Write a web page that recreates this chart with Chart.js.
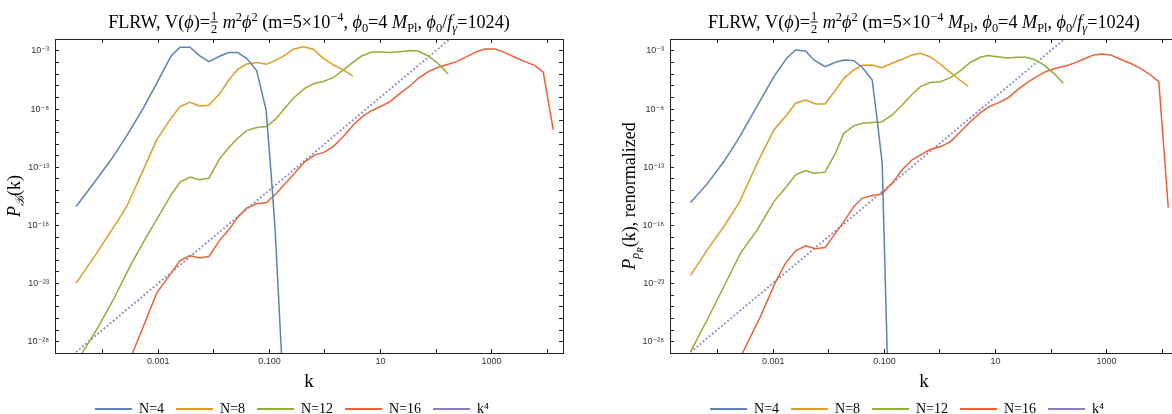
<!DOCTYPE html>
<html>
<head>
<meta charset="utf-8">
<script src="https://cdn.jsdelivr.net/npm/chart.js@4.4.0/dist/chart.umd.min.js"></script>
<style>
  html, body { margin:0; padding:0; background:#fff; overflow:hidden; width:1172px; height:414px; }
  .panel { position:absolute; top:0; width:584px; height:426px; }
  #left { left:0; }
  #right { left:615px; }
</style>
</head>
<body>
<div class="panel" id="left"><canvas id="cL" width="584" height="426"></canvas></div>
<div class="panel" id="right"><canvas id="cR" width="584" height="426"></canvas></div>
<script>
// Werte als log10 abgelesen (k und P(k))
// linkes Panel: P_B(k)
var kL_N4  = [-4.48,-4.14,-3.81,-3.54,-3.27,-3.03,-2.77,-2.61,-2.43,-2.26,-2.09,-1.89,-1.73,-1.57,-1.41,-1.23,-1.06,-0.975,-0.90,-0.78];
var pL_N4  = [-16.37,-14.23,-12.08,-10.07,-7.92,-5.78,-3.43,-2.68,-2.68,-3.40,-3.92,-3.43,-3.14,-3.14,-3.63,-4.69,-8.07,-13.22,-18.1,-29.3];
var kL_N8  = [-4.48,-4.11,-3.72,-3.57,-3.27,-3.03,-2.77,-2.61,-2.43,-2.26,-2.09,-1.89,-1.73,-1.57,-1.41,-1.23,-1.05,-0.87,-0.72,-0.57,-0.39,-0.21,-0.03,0.15,0.33,0.50];
var pL_N8  = [-22.96,-20.38,-17.52,-16.37,-13.22,-10.65,-8.78,-7.78,-7.41,-7.73,-7.67,-6.64,-5.49,-4.57,-4.12,-4.00,-4.14,-3.77,-3.35,-2.85,-2.63,-2.85,-3.63,-4.20,-4.63,-5.15];
var kL_N12 = [-4.48,-4.11,-3.81,-3.51,-3.21,-3.03,-2.77,-2.61,-2.43,-2.26,-2.09,-1.89,-1.73,-1.57,-1.41,-1.23,-1.05,-0.87,-0.72,-0.57,-0.36,-0.18,-0.03,0.15,0.33,0.48,0.66,0.84,0.99,1.17,1.35,1.53,1.68,1.86,2.02,2.22];
var pL_N12 = [-29.8,-26.97,-24.39,-21.53,-18.95,-17.5,-15.37,-14.28,-13.85,-14.08,-13.94,-12.22,-11.3,-10.5,-9.85,-9.59,-9.50,-8.78,-7.9,-7.07,-6.20,-5.78,-5.63,-5.29,-4.63,-4.06,-3.43,-3.09,-3.09,-3.14,-3.06,-2.97,-3.0,-3.43,-4.0,-4.98];
var kL_N16 = [-3.57,-3.27,-3.03,-2.77,-2.61,-2.43,-2.26,-2.09,-1.89,-1.73,-1.57,-1.41,-1.23,-1.05,-0.87,-0.6,-0.36,-0.18,-0.03,0.15,0.33,0.51,0.69,0.84,1.02,1.17,1.35,1.53,1.68,1.86,2.04,2.22,2.37,2.55,2.73,2.88,3.06,3.24,3.42,3.60,3.78,3.93,4.11];
var pL_N16 = [-30.2,-26.69,-23.82,-22.10,-21.02,-20.59,-20.81,-20.67,-19.24,-18.38,-17.3,-16.51,-16.14,-16.03,-15.22,-13.8,-12.51,-11.93,-11.74,-11.22,-10.36,-9.36,-8.58,-8.13,-7.73,-7.36,-6.64,-6.01,-5.35,-4.78,-4.40,-4.14,-3.92,-3.49,-3.06,-2.83,-2.83,-3.14,-3.54,-3.92,-4.26,-4.83,-9.79];
var kL_K4  = [-4.48, 2.30];
var pL_K4  = [-28.89, -1.77];

// rechtes Panel: P_rhoR(k), renormalized
var kR_N4  = [-4.49,-4.19,-3.89,-3.62,-3.29,-2.99,-2.76,-2.60,-2.42,-2.27,-2.07,-1.88,-1.73,-1.55,-1.40,-1.22,-1.13,-1.04,-1.01,-0.95,-0.90];
var pR_N4  = [-16.03,-14.43,-12.51,-10.5,-7.73,-5.21,-3.63,-2.91,-3.0,-3.77,-4.35,-3.97,-3.77,-3.83,-4.40,-5.49,-8.93,-12.65,-18.09,-28.85,-31.0];
var kR_N8  = [-4.49,-4.19,-3.89,-3.62,-3.29,-2.99,-2.76,-2.60,-2.42,-2.24,-2.07,-1.88,-1.73,-1.55,-1.40,-1.22,-1.05,-0.86,-0.68,-0.50,-0.35,-0.18,0.01,0.19,0.34,0.50];
var pR_N8  = [-22.30,-20.10,-18.09,-16.09,-12.65,-9.79,-8.50,-7.49,-7.21,-7.55,-7.55,-6.35,-5.35,-4.63,-4.23,-4.20,-4.43,-4.06,-3.71,-3.34,-3.20,-3.49,-4.14,-4.86,-5.43,-6.01];
var kR_N12 = [-4.49,-4.19,-3.89,-3.59,-3.29,-2.99,-2.76,-2.60,-2.42,-2.27,-2.07,-1.88,-1.73,-1.55,-1.40,-1.22,-1.05,-0.86,-0.68,-0.50,-0.35,-0.18,0.01,0.19,0.37,0.55,0.73,0.86,1.03,1.21,1.39,1.54,1.69,1.87,2.05,2.22];
var pR_N12 = [-28.85,-26.11,-23.25,-20.38,-18.38,-15.95,-14.66,-13.65,-13.28,-13.51,-13.42,-11.79,-10.07,-9.44,-9.21,-9.16,-9.1,-8.50,-7.64,-6.72,-6.07,-5.72,-5.64,-5.29,-4.69,-3.97,-3.54,-3.40,-3.49,-3.60,-3.54,-3.54,-3.71,-4.20,-4.92,-5.78];
var kR_N16 = [-3.62,-3.23,-2.97,-2.78,-2.60,-2.42,-2.24,-2.07,-1.88,-1.73,-1.55,-1.40,-1.22,-1.05,-0.86,-0.68,-0.50,-0.35,-0.17,0.01,0.19,0.37,0.55,0.73,0.91,1.06,1.24,1.39,1.57,1.74,1.90,2.08,2.26,2.44,2.62,2.77,2.92,3.07,3.25,3.43,3.61,3.77,3.94,4.11];
var pR_N16 = [-29.6,-25.82,-22.96,-21.24,-20.18,-19.75,-20.01,-19.90,-18.66,-17.67,-16.37,-15.65,-15.43,-15.3,-14.37,-13.22,-12.36,-11.93,-11.45,-11.22,-10.79,-9.93,-9.07,-8.30,-7.73,-7.44,-6.98,-6.35,-5.72,-5.21,-4.78,-4.49,-4.29,-4.0,-3.63,-3.34,-3.26,-3.34,-3.71,-4.06,-4.49,-4.98,-5.64,-16.46];
var kR_K4  = [-4.49, 2.30];
var pR_K4  = [-28.9, -1.74];

var SERIES_NAMES = ["N=4", "N=8", "N=12", "N=16", "k\u2074"];
var COLORS = ["#5E81B5", "#E19C24", "#8FB032", "#EB6235", "#8a7fc6"];

// Achsen
var X_MIN = 1.38e-5, X_MAX = 1.93e4;
var Y_MIN = 1.07e-29, Y_MAX = 1.07e-2;
var X_TICK_VALS = [1e-3, 0.1, 10, 1000];
var X_TICK_TEXT = ["0.001", "0.100", "10", "1000"];
var Y_TICK_VALS = [1e-3, 1e-8, 1e-13, 1e-18, 1e-23, 1e-28];
var Y_TICK_TEXT = ["10\u207B\u00B3", "10\u207B\u2078", "10\u207B\u00B9\u00B3", "10\u207B\u00B9\u2078", "10\u207B\u00B2\u00B3", "10\u207B\u00B2\u2078"];

var FRAME = "#222";
var SERIF = '"Liberation Serif","DejaVu Serif",serif';
var SANS = '"Liberation Sans","DejaVu Sans",sans-serif';

// Titel-Segmente: [text, stil] ; frac: [zaehler, 'frac', nenner]
var TITLE_L = [["FLRW, V(","n"],["\u03D5","i"],[")=","n"],["1","frac","2"],[" ","n"],["m","i"],["2","sup"],["\u03D5","i"],["2","sup"],
  [" (m=5\u00D710","n"],["\u22124","sup"],[", ","n"],["\u03D5","i"],["0","sub"],["=4 ","n"],["M","i"],["Pl","sub"],[", ","n"],
  ["\u03D5","i"],["0","sub"],["/","n"],["f","i"],["\u03B3","isub"],["=1024)","n"]];
var TITLE_R = [["FLRW, V(","n"],["\u03D5","i"],[")=","n"],["1","frac","2"],[" ","n"],["m","i"],["2","sup"],["\u03D5","i"],["2","sup"],
  [" (m=5\u00D710","n"],["\u22124","sup"],[" ","n"],["M","i"],["Pl","sub"],[", ","n"],["\u03D5","i"],["0","sub"],["=4 ","n"],["M","i"],["Pl","sub"],[", ","n"],
  ["\u03D5","i"],["0","sub"],["/","n"],["f","i"],["\u03B3","isub"],["=1024)","n"]];
var YTITLE_L = [["P","i"],["\u212C","isub"],["(k)","n"]];
var YTITLE_R = [["P","i"],["\u03C1","isub"],["R","ssub"],["(k), renormalized","n"]];
var XTITLE = [["k","n"]];

var STY = {
  n:    {it:false, s:1,    dy:0},
  i:    {it:true,  s:1,    dy:0},
  sup:  {it:false, s:0.68, dy:-0.4},
  sub:  {it:false, s:0.68, dy:0.22},
  isub: {it:true,  s:0.68, dy:0.22},
  ssub: {it:true,  s:0.5,  dy:0.42}
};
function fontOf(st, size){ return (st.it ? "italic " : "") + (size*st.s).toFixed(1) + "px " + SERIF; }

function drawRich(ctx, segs, size, cx, cy, rot){
  ctx.save();
  ctx.translate(cx, cy);
  if (rot) ctx.rotate(rot);
  ctx.fillStyle = "#000";
  ctx.textBaseline = "alphabetic";
  ctx.textAlign = "left";
  var widths = segs.map(function(sg){
    if (sg[1] === "frac"){
      ctx.font = fontOf(STY.sup, size);
      return Math.max(ctx.measureText(sg[0]).width, ctx.measureText(sg[2]).width) + 2;
    }
    ctx.font = fontOf(STY[sg[1]], size);
    return ctx.measureText(sg[0]).width;
  });
  var total = widths.reduce(function(a,b){ return a+b; }, 0);
  var x = -total/2;
  segs.forEach(function(sg, i){
    if (sg[1] === "frac"){
      ctx.font = fontOf(STY.sup, size);
      ctx.textAlign = "center";
      var mid = x + widths[i]/2;
      ctx.fillText(sg[0], mid, -0.45*size);
      ctx.fillText(sg[2], mid, 0.3*size);
      ctx.fillRect(x + 0.5, -0.36*size, widths[i] - 1, 1);
      ctx.textAlign = "left";
    } else {
      var st = STY[sg[1]];
      ctx.font = fontOf(st, size);
      ctx.fillText(sg[0], x, st.dy*size);
    }
    x += widths[i];
  });
  ctx.restore();
}

var richLabels = {
  id: "richLabels",
  afterDraw: function(chart, args, o){
    var ctx = chart.ctx, a = chart.chartArea;
    var mid = (a.left + a.right)/2;
    drawRich(ctx, o.title, 18.2, mid, 28);
    drawRich(ctx, o.xTitle, 19, mid, 387);
    drawRich(ctx, o.yTitle, 18, 20, (a.top + a.bottom)/2, -Math.PI/2);
  }
};

function pts(kLog, pLog){
  return kLog.map(function(k, i){ return { x: Math.pow(10, k), y: Math.pow(10, pLog[i]) }; });
}
function decades(a, b){ var out = []; for (var e = a; e <= b; e++) out.push({ value: Math.pow(10, e) }); return out; }
function sameDecade(a, b){ return Math.abs(Math.log10(a) - Math.log10(b)) < 1e-6; }

function makeDatasets(series){
  return series.map(function(s, i){
    var dotted = (i === 4);
    return {
      label: SERIES_NAMES[i],
      data: pts(s[0], s[1]),
      borderColor: COLORS[i],
      backgroundColor: COLORS[i],
      borderWidth: dotted ? 1.8 : 1.5,
      borderDash: dotted ? [1.8, 2.2] : [],
      pointRadius: 0,
      tension: 0,
      fill: false
    };
  });
}

// Legendenlinien etwas dicker als die Kurven
function legendLabels(chart){
  var items = Chart.defaults.plugins.legend.labels.generateLabels(chart);
  items.forEach(function(it){ it.lineWidth = 2; });
  return items;
}

function frameGrid(){ return { drawOnChartArea:false, drawTicks:true, tickLength:-4, color:FRAME, lineWidth:1 }; }

function makeChart(id, series, title, yTitle){
  return new Chart(document.getElementById(id), {
    type: "line",
    data: { datasets: makeDatasets(series) },
    plugins: [richLabels],
    options: {
      responsive:false, animation:false, devicePixelRatio:1,
      layout: { padding: { top:39, right:0, bottom:0, left:0 } },
      plugins: {
        title: { display:false },
        tooltip: { enabled:false },
        legend: {
          position:"bottom",
          labels: { usePointStyle:true, pointStyle:"line", pointStyleWidth:37, color:"#000", padding:12,
                    font:{ family:SERIF, size:14 }, generateLabels: legendLabels }
        },
        richLabels: { title:title, yTitle:yTitle, xTitle:XTITLE }
      },
      scales: {
        x: {
          type:"logarithmic", position:"bottom", min:X_MIN, max:X_MAX,
          afterBuildTicks: function(s){ s.ticks = decades(-4, 4); },
          afterFit: function(s){ s.height = 37; },
          grid: frameGrid(), border:{ display:true, color:FRAME, width:1 },
          ticks: { autoSkip:false, maxRotation:0, padding:7, color:"#333", font:{ family:SANS, size:9 },
            callback: function(v){ for (var i=0;i<X_TICK_VALS.length;i++){ if (sameDecade(v, X_TICK_VALS[i])) return X_TICK_TEXT[i]; } return ""; } }
        },
        x2: {
          type:"logarithmic", position:"top", min:X_MIN, max:X_MAX,
          afterBuildTicks: function(s){ s.ticks = decades(-4, 4); },
          afterFit: function(s){ s.height = 0; },
          grid: frameGrid(), border:{ display:true, color:FRAME, width:1 },
          ticks: { display:false }
        },
        y: {
          type:"logarithmic", position:"left", min:Y_MIN, max:Y_MAX,
          afterBuildTicks: function(s){ s.ticks = decades(-28, -3); },
          afterFit: function(s){ s.width = 55; },
          grid: frameGrid(), border:{ display:true, color:FRAME, width:1 },
          ticks: { autoSkip:false, padding:10, color:"#333", font:{ family:SANS, size:9 },
            callback: function(v){ for (var i=0;i<Y_TICK_VALS.length;i++){ if (sameDecade(v, Y_TICK_VALS[i])) return Y_TICK_TEXT[i]; } return ""; } }
        },
        y2: {
          type:"logarithmic", position:"right", min:Y_MIN, max:Y_MAX,
          afterBuildTicks: function(s){ s.ticks = decades(-28, -3); },
          afterFit: function(s){ s.width = 21; },
          grid: frameGrid(), border:{ display:true, color:FRAME, width:1 },
          ticks: { display:false }
        }
      }
    }
  });
}

makeChart("cL", [[kL_N4,pL_N4],[kL_N8,pL_N8],[kL_N12,pL_N12],[kL_N16,pL_N16],[kL_K4,pL_K4]], TITLE_L, YTITLE_L);
makeChart("cR", [[kR_N4,pR_N4],[kR_N8,pR_N8],[kR_N12,pR_N12],[kR_N16,pR_N16],[kR_K4,pR_K4]], TITLE_R, YTITLE_R);
</script>
</body>
</html>
